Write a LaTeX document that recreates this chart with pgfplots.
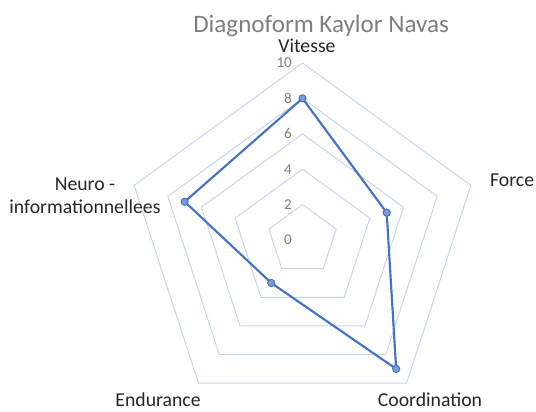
\documentclass[border=0pt]{standalone}
\usepackage{fontspec}
\setmainfont{Carlito}
\usepackage{pgfplots}
\pgfplotsset{compat=1.18}
\usepgfplotslibrary{polar}
\definecolor{serie}{HTML}{4472C4}
\definecolor{markfill}{HTML}{7E9AD6}
\definecolor{gridc}{RGB}{198,214,240}
\definecolor{tickc}{HTML}{808080}
\definecolor{titlec}{HTML}{7F7F7F}
\definecolor{labc}{HTML}{262626}
\begin{document}
\begin{tikzpicture}
\begin{axis}[
    x=13.275pt, y=13.275pt,
    xmin=-17.09, xmax=13.19, ymin=-9.66, ymax=13.56,
    hide axis, clip=false, enlargelimits=false]
\path (rel axis cs:0,0) rectangle (rel axis cs:1,1);
% grid pentagons
\pgfplotsinvokeforeach{2,4,6,8,10}{
  \addplot[gridc, line width=0.75pt, data cs=polar, line join=miter]
    coordinates {(90,#1) (18,#1) (-54,#1) (-126,#1) (162,#1)} -- cycle;
}
% radial tick labels
\pgfplotsinvokeforeach{0,2,4,6,8,10}{
  \node[anchor=east, font=\fontsize{11.3}{13}\selectfont, text=tickc, inner sep=0pt]
    at (axis cs:-0.59,#1) {#1};
}
% data: Vitesse, Force, Coordination, Endurance, Neuro
\addplot[serie, line width=1.6pt, data cs=polar, line join=round,
    mark=*, mark size=2.7pt, mark options={fill=markfill, draw=serie, line width=0.75pt}]
    coordinates {(90,8) (18,5) (-54,9) (-126,3) (162,7)} -- cycle;
% category labels
\begin{scope}[every node/.style={font=\fontsize{14.8}{17.5}\selectfont, text=labc, inner sep=0pt, align=center}]
\node at (axis cs:0.25,10.98) {Vitesse};
\node at (axis cs:11.84,3.39) {Force};
\node at (axis cs:7.2,-9.02) {Coordination};
\node at (axis cs:-8.16,-9.02) {Endurance};
\node at (axis cs:-12.29,2.49) {Neuro -\\informationnellees};
\end{scope}
\node[font=\fontsize{18.8}{22}\selectfont, text=titlec, inner sep=0pt]
  at (axis cs:1.05,12.12) {Diagnoform Kaylor Navas};
\end{axis}
\end{tikzpicture}
\end{document}
